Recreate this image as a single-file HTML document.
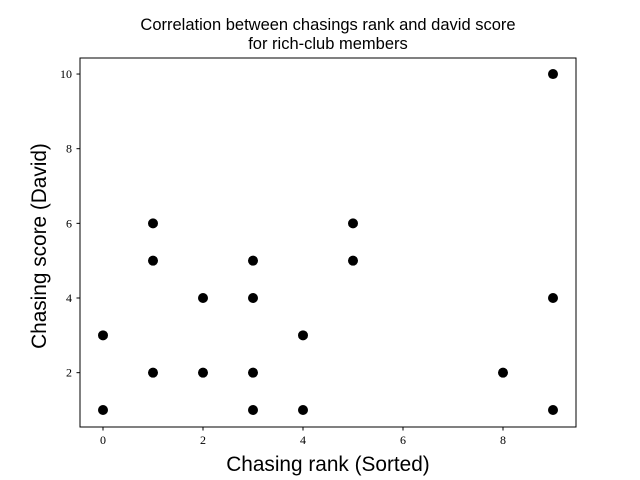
<!DOCTYPE html>
<html><head><meta charset="utf-8"><style>
body{margin:0;background:#fff}
svg{display:block}
.t{font-family:"Liberation Serif",serif;font-size:12px;fill:#000}
.s{font-family:"Liberation Sans",sans-serif;fill:#000}
</style></head><body>
<svg id="c" width="640" height="480">
<rect x="0" y="0" width="640" height="480" fill="#fff"/>
<text class="s" x="328" y="30" font-size="16.5" text-anchor="middle">Correlation between chasings rank and david score</text>
<text class="s" x="328" y="49" font-size="16.5" text-anchor="middle">for rich-club members</text>
<text class="s" x="328" y="471" font-size="20.8" text-anchor="middle">Chasing rank (Sorted)</text>
<text class="s" transform="translate(46,246) rotate(-90)" font-size="20.8" text-anchor="middle">Chasing score (David)</text>
<g id="ticks"></g>
<g id="pts"></g>
<rect x="80" y="58" width="496" height="369" fill="none" stroke="#000" stroke-width="1"/>
</svg>
<script>
const xs=[0,0,1,1,1,2,2,3,3,3,3,4,4,5,5,8,9,9,9];
const ys=[1,3,6,5,2,4,2,5,4,2,1,3,1,6,5,2,10,4,1];
const xTicks=[0,2,4,6,8];
const yTicks=[2,4,6,8,10];
const X=v=>103+v*50, Y=v=>410-(v-1)*37.33;
const ns="http://www.w3.org/2000/svg";
const tg=document.getElementById('ticks'), pg=document.getElementById('pts');
xTicks.forEach(v=>{
 const l=document.createElementNS(ns,'line');
 l.setAttribute('x1',X(v));l.setAttribute('x2',X(v));l.setAttribute('y1',427);l.setAttribute('y2',430.5);l.setAttribute('stroke','#000');
 
 
 tg.appendChild(l);
 const t=document.createElementNS(ns,'text');
 t.setAttribute('x',X(v));t.setAttribute('y',444);t.setAttribute('text-anchor','middle');t.setAttribute('class','t');t.textContent=v;
 
 
 tg.appendChild(t);
});
yTicks.forEach(v=>{
 const l=document.createElementNS(ns,'line');
 l.setAttribute('x1',76.5);l.setAttribute('x2',80);l.setAttribute('y1',Y(v));l.setAttribute('y2',Y(v));l.setAttribute('stroke','#000');
 
 
 tg.appendChild(l);
 const t=document.createElementNS(ns,'text');
 t.setAttribute('x',72);t.setAttribute('y',Y(v)+4);t.setAttribute('text-anchor','end');t.setAttribute('class','t');t.textContent=v;
 
 
 tg.appendChild(t);
});
xs.forEach((x,i)=>{
 const c=document.createElementNS(ns,'circle');
 c.setAttribute('cx',X(x));c.setAttribute('cy',Y(ys[i]));c.setAttribute('r',5);c.setAttribute('fill','#000');
 
 
 pg.appendChild(c);
});
</script>
</body></html>
